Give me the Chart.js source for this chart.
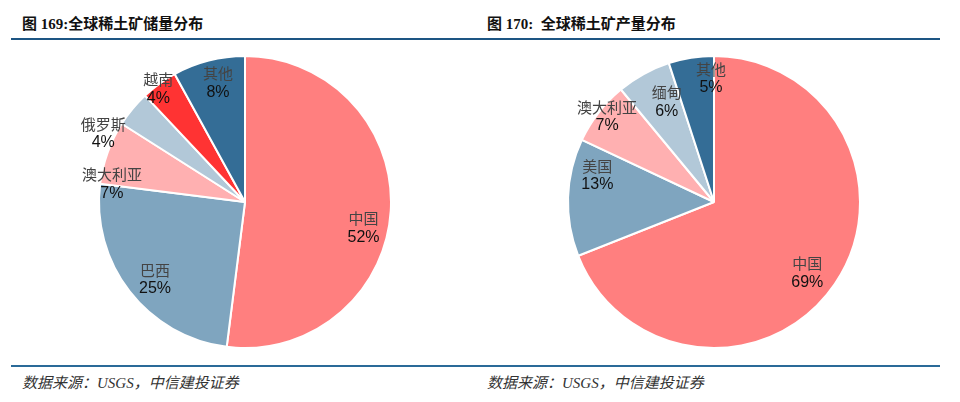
<!DOCTYPE html>
<html>
<head>
<meta charset="utf-8">
<script src="https://cdn.jsdelivr.net/npm/chart.js@4.4.0/dist/chart.umd.min.js"></script>
<style>
  html, body { margin: 0; padding: 0; background: #fff; }
  body { width: 960px; height: 402px; position: relative; overflow: hidden; }
  .title {
    position: absolute; top: 12px; font-size: 15px; font-weight: bold; color: #111;
    font-family: "Liberation Serif", "Noto Sans CJK SC", serif; white-space: pre;
  }
  .rule { position: absolute; left: 11px; width: 929px; height: 2px; }
  .src {
    position: absolute; top: 371px; font-size: 15px; font-style: italic; color: #333;
    font-family: "Liberation Serif", "Noto Sans CJK SC", serif;
  }
  .box { position: absolute; top: 42px; width: 480px; height: 320px; }
</style>
</head>
<body>
<div class="title" style="left:22px">图 169:全球稀土矿储量分布</div>
<div class="title" style="left:487px">图 170:  全球稀土矿产量分布</div>
<div class="rule" style="top:38px;background:#1d5583"></div>

<div class="box" style="left:0"><canvas id="reserve"></canvas></div>
<div class="box" style="left:480px"><canvas id="output"></canvas></div>

<div class="rule" style="top:365px;background:#2a6a98"></div>
<div class="src" style="left:22px">数据来源：USGS，中信建投证券</div>
<div class="src" style="left:487px">数据来源：USGS，中信建投证券</div>

<script>
// 储量分布
const reserveLabels = ['中国', '巴西', '澳大利亚', '俄罗斯', '越南', '其他'];
const reserveValues = [52, 25, 7, 4, 4, 8];
// 产量分布
const outputLabels = ['中国', '美国', '澳大利亚', '缅甸', '其他'];
const outputValues = [69, 13, 7, 6, 5];

const SLICE_COLORS = {
    china: '#ff7f7f',
    second: '#7fa5bf',
    australia: '#ffb0b1',
    pale: '#b2c8d8',
    red: '#ff3333',
    other: '#346d96'
};

// 标签位置：[半径比例, 角度偏移(度)]
const reserveLabelPos = [[0.83, 8.4], [0.81, -2.7], [0.92, -12], [1.08, -13.6], [0.98, -1.3], [0.84, 1.7]];
const outputLabelPos = [[0.80, 2.8], [0.82, 11.2], [0.94, 1], [0.76, 3.6], [0.85, 7.6]];

const sliceLabelPlugin = {
    id: 'sliceLabels',
    afterDatasetsDraw(chart, args, opts) {
        const { ctx } = chart;
        const meta = chart.getDatasetMeta(0);
        const values = chart.data.datasets[0].data;
        ctx.save();
        ctx.textAlign = 'center';
        ctx.textBaseline = 'middle';
        meta.data.forEach((arc, i) => {
            const p = opts.pos[i];
            const a = (arc.startAngle + arc.endAngle) / 2 + p[1] * Math.PI / 180;
            const r = arc.outerRadius * p[0];
            const x = arc.x + Math.cos(a) * r;
            const y = arc.y + Math.sin(a) * r;
            ctx.fillStyle = '#444';
            ctx.font = "15px 'Noto Sans CJK SC', sans-serif";
            ctx.fillText(chart.data.labels[i], x, y - 9);
            ctx.fillStyle = '#111';
            ctx.font = "16px 'Liberation Sans', Arial, sans-serif";
            ctx.fillText(values[i] + '%', x, y + 10);
        });
        ctx.restore();
    }
};

function createPie(canvasId, labels, values, colors, labelPos, padLeft) {
    return new Chart(document.getElementById(canvasId), {
        type: 'pie',
        data: {
            labels,
            datasets: [{
                data: values,
                backgroundColor: colors,
                borderColor: '#fff',
                borderWidth: 2
            }]
        },
        options: {
            responsive: true,
            maintainAspectRatio: false,
            animation: false,
            layout: { padding: { left: padLeft, right: 480 - padLeft - 294, top: 13, bottom: 13 } },
            plugins: {
                legend: { display: false },
                tooltip: { enabled: false },
                sliceLabels: { pos: labelPos }
            }
        },
        plugins: [sliceLabelPlugin]
    });
}

createPie('reserve', reserveLabels, reserveValues,
    [SLICE_COLORS.china, SLICE_COLORS.second, SLICE_COLORS.australia, SLICE_COLORS.pale, SLICE_COLORS.red, SLICE_COLORS.other],
    reserveLabelPos, 98);
createPie('output', outputLabels, outputValues,
    [SLICE_COLORS.china, SLICE_COLORS.second, SLICE_COLORS.australia, SLICE_COLORS.pale, SLICE_COLORS.other],
    outputLabelPos, 87);
</script>
</body>
</html>
